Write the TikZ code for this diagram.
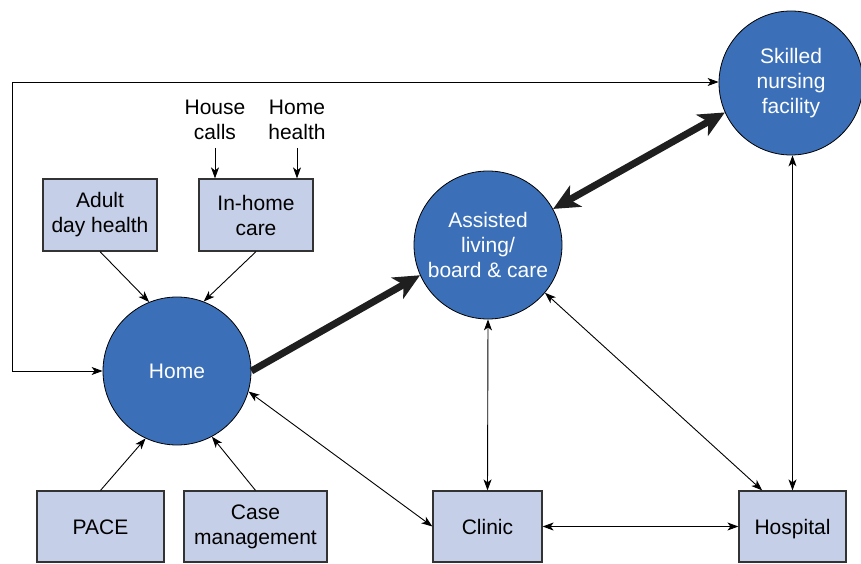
\documentclass[tikz,border=0pt]{standalone}
\usepackage{fontspec}
\setmainfont{Liberation Sans}
\usetikzlibrary{arrows.meta,calc}
\definecolor{careblue}{HTML}{3B70B8}
\definecolor{boxfill}{HTML}{C5CFE7}
\definecolor{edgegray}{HTML}{333333}
\begin{document}
\begin{tikzpicture}[x=1pt,y=-1pt,
  every node/.style={font=\fontsize{21}{25}\selectfont, align=center},
  site/.style={circle, draw=black, line width=0.8pt, fill=careblue, text=white, minimum size=148pt, inner sep=0pt},
  service/.style={rectangle, draw=edgegray, line width=1.2pt, fill=boxfill, inner sep=0pt},
  oneline/.style={text height=15pt, text depth=0pt},
  thin/.style={line width=0.9pt, -{Stealth[length=11pt,width=8pt,inset=3pt]}},
  thinboth/.style={line width=0.9pt, {Stealth[length=11pt,width=8pt,inset=3pt]}-{Stealth[length=11pt,width=8pt,inset=3pt]}},
  heavy/.style={line width=7pt, draw=black!88, -{Stealth[length=26pt,width=24pt,inset=7pt]}},
  heavyboth/.style={line width=7pt, draw=black!88, {Stealth[length=26pt,width=24pt,inset=7pt]}-{Stealth[length=26pt,width=24pt,inset=7pt]}},
]
\useasboundingbox (0,0) rectangle (861,564);

% Care settings
\node[site, oneline] (home) at (177,371) {Home};
\node[site] (al) at (488,245) {Assisted\\living/\\board \& care};
\node[site, minimum size=144pt] (snf) at (791,83) {Skilled\\nursing\\facility};

% Services
\node[service, minimum width=114pt, minimum height=72pt] (adh) at (100,215) {Adult\\day health};
\node[service, minimum width=114pt, minimum height=72pt] (ihc) at (256,215) {In-home\\care};
\node[service, oneline, minimum width=127pt, minimum height=71pt] (pace) at (100.5,526.5) {PACE};
\node[service, minimum width=143pt, minimum height=71pt] (cm) at (255.5,526.5) {Case\\management};
\node[service, oneline, minimum width=109pt, minimum height=71pt] (clinic) at (487.5,526.5) {Clinic};
\node[service, oneline, minimum width=107pt, minimum height=71pt] (hosp) at (792.5,526.5) {Hospital};

% Sources of in-home care
\node[inner sep=0pt] (calls) at (215,120) {House\\calls};
\node[inner sep=0pt] (hh) at (297,120) {Home\\health};
\coordinate (callsend) at (215,148);
\coordinate (hhend) at (297,148);
\draw[thin] (callsend) -- (callsend |- ihc.north);
\draw[thin] (hhend) -- (hhend |- ihc.north);

% Services feeding home
\draw[thin] (adh.south) -- (home.112);
\draw[thin] (ihc.south) -- (home.69);
\draw[thin] (pace.north) -- (home.245);
\draw[thin] (cm.north) -- (home.298);

% Loop from skilled nursing back home
\coordinate (tl) at (12,82);
\coordinate (bl) at (12,371);
\draw[thinboth] (snf.west |- tl) -- (tl) -- (bl) -- (home.west);

% Main transitions
\draw[heavy] (home.0) -- (al.204);
\draw[heavyboth] (al.29) -- (snf.204);

% Other links
\draw[thinboth] (home.-16) -- (clinic.west);
\draw[thinboth] (al.south) -- (clinic.north);
\draw[thinboth] (al.-40) -- ($(hosp.north west)!0.22!(hosp.north east)$);
\draw[thinboth] (hosp.north |- snf.south) -- (hosp.north);
\draw[thinboth] (clinic.east) -- (hosp.west);
\end{tikzpicture}
\end{document}
